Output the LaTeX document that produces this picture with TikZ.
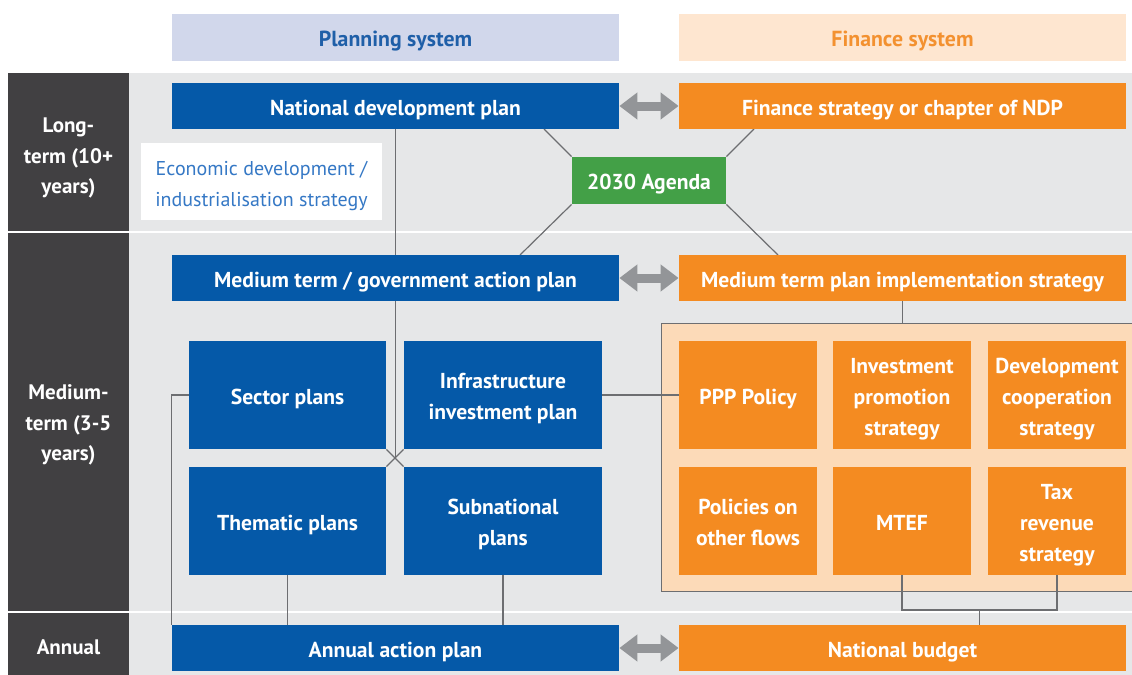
\documentclass[tikz,border=0pt]{standalone}
\usepackage{fontspec}
\setmainfont{PT Sans}
\usetikzlibrary{arrows.meta,calc}
\definecolor{pblue}{HTML}{0559A8}
\definecolor{porange}{HTML}{F48B21}
\definecolor{pgreen}{HTML}{43A047}
\definecolor{pgrey}{HTML}{E6E7E8}
\definecolor{pdark}{HTML}{414042}
\definecolor{plav}{HTML}{D1D7EB}
\definecolor{ppeach}{HTML}{FEE6D0}
\definecolor{pcont}{HTML}{FCDAB8}
\definecolor{pline}{HTML}{6D6E71}
\definecolor{parrow}{HTML}{939598}
\definecolor{htblue}{HTML}{1F5FA8}
\definecolor{htorange}{HTML}{F39130}
\definecolor{ecoblue}{HTML}{3578C5}
\pgfdeclarelayer{bg}
\pgfdeclarelayer{lines}
\pgfsetlayers{bg,lines,main}
\tikzset{
 box/.style={inner sep=0pt, text=white, font=\bfseries\fontsize{10.8}{15.4}\selectfont, align=center},
 bluebox/.style={box, fill=pblue},
 orangebox/.style={box, fill=porange},
 greenbox/.style={box, fill=pgreen},
 lbl/.style={inner sep=0pt, text=white, font=\bfseries\fontsize{10.5}{15.2}\selectfont, align=center},
 header/.style={inner sep=0pt, font=\bfseries\fontsize{10.9}{15}\selectfont},
 conn/.style={draw=pline, line width=0.6pt},
 dblarrow/.style={draw=parrow, line width=4.5pt, {Triangle[length=9pt,width=13pt]}-{Triangle[length=9pt,width=13pt]}},
}
% \rbox{name}{x1}{y1}{x2}{y2}{style}{text}
\newcommand{\rbox}[7]{%
 \node[#6, minimum width={(#4-#2)*0.5pt}, minimum height={(#5-#3)*0.5pt}, anchor=center]
   (#1) at ({(#2+#4)/2},{(#3+#5)/2})
   {\raisebox{-1.6pt}[\height][\depth]{\begin{tabular}{@{}c@{}}#7\end{tabular}}};}
\begin{document}
\begin{tikzpicture}[x=0.5pt,y=-0.5pt]
\useasboundingbox (0,0) rectangle (1132,675);
\begin{pgfonlayer}{bg}
\fill[white] (0,0) rectangle (1132,675);
\fill[pgrey] (129,73) rectangle (1132,675);
\fill[pdark] (8,73) rectangle (129,675);
\fill[white] (8,231) rectangle (1132,233);
\fill[white] (8,610.5) rectangle (1132,612.5);
\node[inner sep=0pt, draw=pline, line width=0.7pt, fill=pcont, minimum width={475*0.5pt}, minimum height={268*0.5pt}, anchor=north west] (cont) at (661,323) {};
\end{pgfonlayer}

% headers
\rbox{hplan}{172}{14}{619}{61}{header, fill=plav, text=htblue}{Planning system}
\rbox{hfin}{679}{14}{1126}{61}{header, fill=ppeach, text=htorange}{Finance system}

% left labels
\node[lbl] (llong) at (68.5,158) {Long-\\term (10+\\years)};
\node[lbl] (lmed) at (68.5,425) {Medium-\\term (3-5\\years)};
\node[lbl] (lann) at (68.5,647) {Annual};

% boxes
\rbox{ndp}{172}{83}{619}{129}{bluebox}{National development plan}
\rbox{fin}{679}{83}{1126}{129}{orangebox}{Finance strategy or chapter of NDP}
\rbox{eco}{141}{143}{382}{220}{inner sep=0pt, fill=white, text=ecoblue, font=\fontsize{10}{15.4}\selectfont}{Economic development /\\industrialisation strategy}
\rbox{agenda}{572}{157}{726}{204}{greenbox}{2030 Agenda}
\rbox{mtp}{172}{255}{619}{301}{bluebox}{Medium term / government action plan}
\rbox{impl}{679}{255}{1126}{301}{orangebox}{Medium term plan implementation strategy}
\rbox{sector}{189}{341}{386}{449}{bluebox}{Sector plans}
\rbox{infra}{404}{341}{602}{449}{bluebox}{Infrastructure\\investment plan}
\rbox{thematic}{189}{467}{386}{575}{bluebox}{Thematic plans}
\rbox{subnat}{404}{467}{602}{575}{bluebox}{Subnational\\plans}
\rbox{ppp}{679}{341}{817}{449}{orangebox}{PPP Policy}
\rbox{invest}{833}{341}{971}{449}{orangebox}{Investment\\promotion\\strategy}
\rbox{devco}{988}{341}{1126}{449}{orangebox}{Development\\cooperation\\strategy}
\rbox{policies}{679}{467}{817}{575}{orangebox}{Policies on\\other flows}
\rbox{mtef}{833}{467}{971}{575}{orangebox}{MTEF}
\rbox{tax}{988}{467}{1126}{575}{orangebox}{Tax\\revenue\\strategy}
\rbox{annual}{172}{625}{619}{671}{bluebox}{Annual action plan}
\rbox{budget}{679}{625}{1126}{671}{orangebox}{National budget}

% connectors
\coordinate (cross) at (395.5,458);
\coordinate (n1) at (544,129);
\coordinate (n2) at (754,129);
\coordinate (n3) at (520,255);
\coordinate (n4) at (778,255);
\coordinate (j) at (979.5,610);
\begin{pgfonlayer}{lines}
\draw[conn] (ndp.south) -- (cross);
\draw[conn] (sector.south east) -- (subnat.north west);
\draw[conn] (infra.south west) -- (thematic.north east);
\draw[conn] (agenda.north west) -- (n1);
\draw[conn] (agenda.north east) -- (n2);
\draw[conn] (agenda.south west) -- (n3);
\draw[conn] (agenda.south east) -- (n4);
\draw[conn] (sector.west) -| (annual.north west);
\draw[conn] (thematic.south) -- (thematic.south |- annual.north);
\draw[conn] (subnat.south) -- (subnat.south |- annual.north);
\draw[conn] (infra.east) -- (ppp.west);
\draw[conn] (impl.south) -- (impl.south |- cont.north);
\draw[conn] (mtef.south) |- (j) -| (tax.south);
\draw[conn] (j) -- (j |- budget.north);
\end{pgfonlayer}
\draw[dblarrow] (ndp.east) -- (fin.west);
\draw[dblarrow] (mtp.east) -- (impl.west);
\draw[dblarrow] (annual.east) -- (budget.west);
\end{tikzpicture}
\end{document}
